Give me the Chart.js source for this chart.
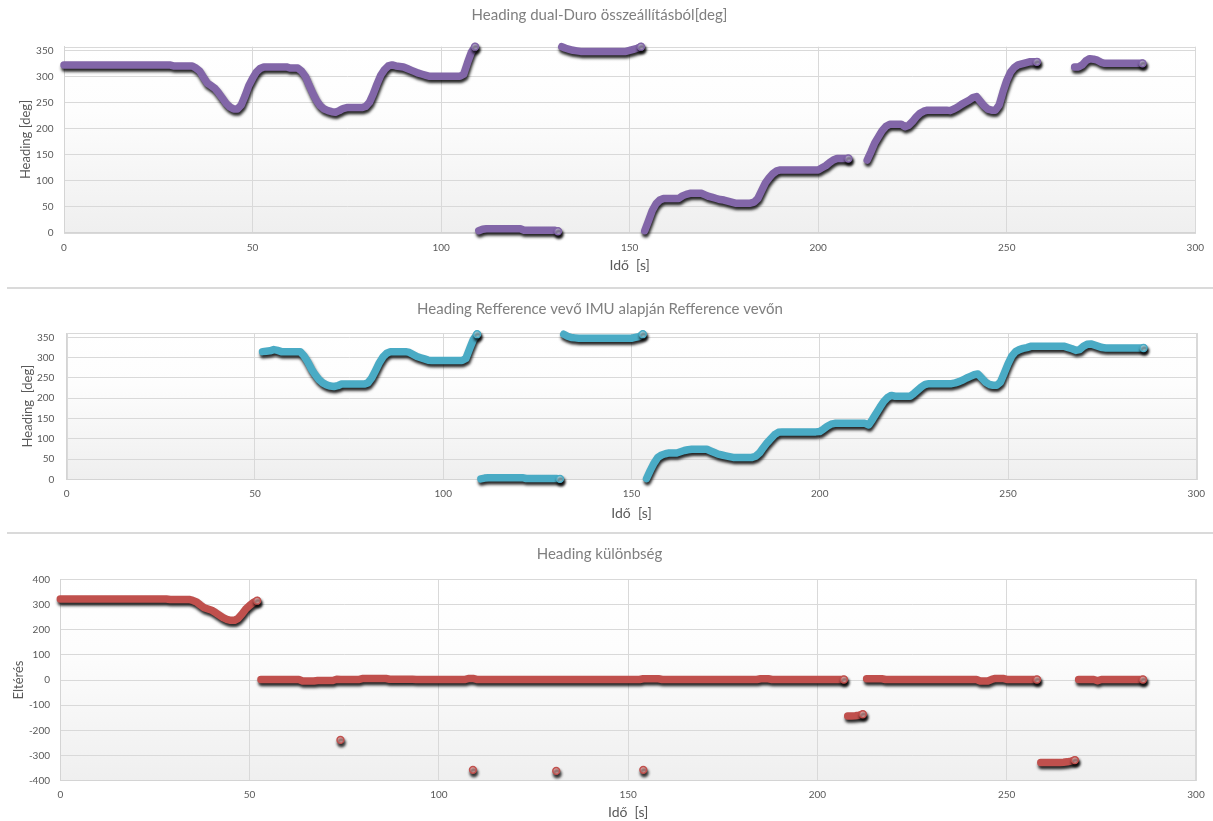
<!DOCTYPE html>
<html lang="hu">
<head>
<meta charset="utf-8">
<title>Heading összehasonlítás</title>
<script src="https://cdn.jsdelivr.net/npm/chart.js@4.4.1/dist/chart.umd.min.js"></script>
<style>
    html, body { margin: 0; padding: 0; background: #fff; }
    body { width: 1213px; height: 821px; position: relative; overflow: hidden; }
    .panel { position: absolute; left: 0; width: 1213px; }
    .panel canvas { display: block; }
    .sep { position: absolute; left: 7px; right: 0; height: 2px; background: #dadada; z-index: 2; }
</style>
</head>
<body>
<div class="panel" style="top:0;height:288px"><canvas id="chartDuro" width="1213" height="288"></canvas></div>
<div class="sep" style="top:287px"></div>
<div class="panel" style="top:288px;height:245px"><canvas id="chartRef" width="1213" height="245"></canvas></div>
<div class="sep" style="top:532px"></div>
<div class="panel" style="top:533px;height:288px"><canvas id="chartDiff" width="1213" height="288"></canvas></div>

<script>
// heading dual-Duro [deg], one value per second, t = 0..286 s (null = no data)
const duroHeading = [
    322,322,322,322,322,322,322,322,322,322,
    322,322,322,322,322,322,322,322,322,322,
    322,322,322,322,322,322,322,322,322,320,
    320,320,320,320,320,316,310,298,287,282,
    277,268,258,248,241,237,237,245,262,282,
    296,308,315,318,318,318,318,318,318,318,
    316,316,316,310,300,283,267,253,243,237,
    234,232,231,234,238,240,240,240,240,240,
    242,250,266,285,302,313,320,322,320,319,
    318,315,312,309,306,304,302,300,300,300,
    300,300,300,300,300,300,304,326,346,357,
    3,6,7,7,7,7,7,7,7,7,
    7,7,4,4,4,4,4,4,4,4,
    4,2,357,354,352,350,349,348,348,348,
    348,348,348,348,348,348,348,348,348,348,
    350,352,354,357,3,22,42,55,62,65,
    65,65,65,65,70,73,75,75,75,75,
    72,69,67,65,63,62,60,58,56,56,
    56,56,56,58,65,80,95,105,113,118,
    120,120,120,120,120,120,120,120,120,120,
    120,124,128,134,139,142,142,142,142,null,
    null,null,null,139,155,172,184,196,204,208,
    208,208,208,203,206,213,222,229,233,235,
    235,235,235,235,235,234,237,241,246,250,
    254,259,261,252,243,237,235,235,245,270,
    292,308,317,322,324,326,328,328,328,null,
    null,null,null,null,null,null,null,null,318,318,
    322,330,334,333,331,327,325,325,325,325,
    325,325,325,325,325,325,325
];

// heading of the reference receiver (IMU) [deg]
const refHeading = [
    null,null,null,null,null,null,null,null,null,null,
    null,null,null,null,null,null,null,null,null,null,
    null,null,null,null,null,null,null,null,null,null,
    null,null,null,null,null,null,null,null,null,null,
    null,null,null,null,null,null,null,null,null,null,
    null,null,315,316,317,320,318,315,315,315,
    315,315,315,305,290,272,258,246,238,233,
    230,229,231,235,235,235,235,235,235,235,
    238,250,268,287,302,311,315,315,315,315,
    315,313,308,303,300,297,294,293,293,293,
    293,293,293,293,293,293,298,322,345,358,
    1,3,4,4,4,4,4,4,4,4,
    4,4,2,2,2,2,2,2,2,2,
    2,1,358,353,350,349,348,348,348,348,
    348,348,348,348,348,348,348,348,348,348,
    348,350,352,358,2,22,40,54,60,63,
    65,65,65,68,71,73,74,74,74,74,
    74,70,66,62,60,58,56,54,54,54,
    54,54,54,57,65,78,90,100,110,116,
    117,117,117,117,117,117,117,117,117,117,
    118,124,131,136,138,138,138,138,138,138,
    138,138,138,134,148,163,178,192,202,207,
    205,205,205,205,205,212,220,228,234,236,
    236,236,236,236,236,236,238,241,245,250,
    254,258,260,250,240,234,232,232,240,262,
    285,304,315,320,323,325,328,328,328,328,
    328,328,328,328,328,328,325,322,318,320,
    328,333,334,331,328,325,324,324,324,324,
    324,324,324,324,324,324,324
];

// difference between the two headings
const headingDiff = [
    322,322,322,322,322,322,322,322,322,322,
    322,322,322,322,322,322,322,322,322,322,
    322,322,322,322,322,322,322,322,322,320,
    320,320,320,320,320,316,310,298,287,282,
    277,268,258,248,241,237,237,245,262,282,
    296,308,315,2,2,2,2,2,2,2,
    2,2,2,2,-4,-4,-4,-4,-2,-2,
    -2,-2,-2,3,2,2,2,2,2,2,
    6,6,6,6,6,6,6,3,3,3,
    3,3,3,3,2,2,2,2,2,2,
    2,2,2,2,2,2,2,2,6,6,
    2,2,2,2,2,2,2,2,2,2,
    2,2,2,2,2,2,2,2,2,2,
    2,2,2,2,2,2,2,2,2,2,
    2,2,2,2,2,2,2,2,2,2,
    2,2,2,2,5,5,5,5,5,2,
    2,2,2,2,2,2,2,2,2,2,
    2,2,2,2,2,2,2,2,2,2,
    2,2,2,2,2,5,5,5,2,2,
    2,2,2,2,2,2,2,2,2,2,
    2,2,2,2,2,2,2,2,-143,-143,
    -142,-140,-136,5,5,5,5,5,2,2,
    2,2,2,2,2,2,2,2,2,2,
    2,2,2,2,2,2,2,2,2,2,
    2,2,2,-4,-4,-4,2,6,6,6,
    2,2,2,2,2,2,2,2,2,-328,
    -328,-328,-328,-328,-328,-327,-325,-322,-318,2,
    2,2,2,2,-3,2,2,2,2,2,
    2,2,2,2,2,2,2
];

// single stray samples of the difference
const diffOutlierTime = [74, 109, 131, 154];
const diffOutlierValue = [-238, -357, -361, -357];

// sampling times [s]
const timeSec = duroHeading.map((_, i) => i);

const chartTitles = [
    'Heading dual-Duro összeállításból[deg]',
    'Heading Refference vevő IMU alapján Refference vevőn',
    'Heading különbség'
];
const yAxisTitles = ['Heading [deg]', 'Heading  [deg]', 'Eltérés'];
const xAxisTitle = 'Idő  [s]';

const fontFamily = 'Lato, "Open Sans", sans-serif';
const JUMP = 60; // larger steps are wrap-arounds, not drawn as a band

// background gradient + plot frame, drawn under the grid
const plotBackground = {
    id: 'plotBackground',
    beforeDraw(chart) {
        const { ctx, chartArea: a } = chart;
        const g = ctx.createLinearGradient(0, a.top, 0, a.bottom);
        g.addColorStop(0, '#ffffff');
        g.addColorStop(0.35, '#fdfdfd');
        g.addColorStop(1, '#efefef');
        ctx.save();
        ctx.fillStyle = g;
        ctx.fillRect(a.left, a.top, a.right - a.left, a.bottom - a.top);
        ctx.strokeStyle = '#d9d9d9';
        ctx.lineWidth = 1;
        ctx.strokeRect(Math.round(a.left) + 0.5, Math.round(a.top) + 0.5,
            Math.round(a.right - a.left), Math.round(a.bottom - a.top));
        ctx.restore();
    }
};

// dark drop shadow under the band
const markerShadow = {
    id: 'markerShadow',
    beforeDatasetsDraw(chart) {
        const c = chart.ctx;
        c.save();
        c.shadowColor = 'rgba(0, 0, 0, 0.85)';
        c.shadowBlur = 3;
        c.shadowOffsetX = 1;
        c.shadowOffsetY = 3;
    },
    afterDatasetsDraw(chart) {
        chart.ctx.restore();
    }
};

// keep nulls so the band breaks where data is missing
function buildPoints(values) {
    return values.map((v, i) => ({ x: timeSec[i], y: v }));
}

// last sample of a run gets the visible marker
function isRunEnd(values, i) {
    const v = values[i];
    if (v === null || v === undefined) return false;
    const next = values[i + 1];
    return next === null || next === undefined || Math.abs(next - v) > JUMP;
}

function renderPanel(canvasId, opts) {
    const ctx = document.getElementById(canvasId).getContext('2d');
    const H = ctx.canvas.height;
    const area = opts.area;
    const titleLh = 15 * 1.2;
    const xTitleLh = 14 * 1.2;
    const yTitleLh = 13 * 1.2;
    const vals = opts.values;

    const datasets = [{
        data: buildPoints(vals),
        showLine: true,
        spanGaps: false,
        borderColor: opts.fill,
        borderWidth: 7.5,
        borderCapStyle: 'round',
        borderJoinStyle: 'round',
        segment: {
            borderColor: s => Math.abs(s.p1.parsed.y - s.p0.parsed.y) > JUMP ? 'rgba(0,0,0,0)' : undefined
        },
        pointRadius: c => isRunEnd(vals, c.dataIndex) ? 3.4 : 0,
        pointHoverRadius: 0,
        pointBackgroundColor: opts.light,
        pointBorderColor: opts.fill,
        pointBorderWidth: 1.5,
        clip: false
    }];

    if (opts.strayT) {
        datasets.push({
            data: opts.strayT.map((t, i) => ({ x: t, y: opts.strayV[i] })),
            pointRadius: 3.4,
            pointHoverRadius: 0,
            pointBackgroundColor: opts.light,
            pointBorderColor: opts.fill,
            pointBorderWidth: 1.5,
            clip: false
        });
    }

    return new Chart(ctx, {
        type: 'scatter',
        data: { datasets: datasets },
        plugins: [plotBackground, markerShadow],
        options: {
            responsive: false,
            animation: false,
            events: [],
            layout: { padding: { left: 0, right: 1213 - area.right, top: 0, bottom: 0 } },
            scales: {
                x: {
                    type: 'linear',
                    min: 0,
                    max: 300,
                    afterFit: s => { s.height = H - area.bottom; },
                    ticks: {
                        stepSize: 50,
                        autoSkip: false,
                        maxRotation: 0,
                        padding: opts.xTickCenter - area.bottom - 6,
                        color: '#595959',
                        font: { family: fontFamily, size: 10, lineHeight: 1.2 }
                    },
                    grid: { color: '#d9d9d9', lineWidth: 1, drawTicks: false },
                    border: { color: '#d4d4d4' },
                    title: {
                        display: true,
                        text: xAxisTitle,
                        color: '#595959',
                        font: { family: fontFamily, size: 14, lineHeight: 1.2 },
                        padding: { top: 0, bottom: (H - opts.xTitleCenter) - xTitleLh / 2 }
                    }
                },
                y: {
                    type: 'linear',
                    min: opts.yMin,
                    max: opts.yMax,
                    afterFit: s => { s.width = area.left; },
                    ticks: {
                        stepSize: opts.yStep,
                        includeBounds: false,
                        autoSkip: false,
                        padding: area.left - opts.yTickRight,
                        color: '#595959',
                        font: { family: fontFamily, size: 10, lineHeight: 1.2 }
                    },
                    grid: { color: '#d9d9d9', lineWidth: 1, drawTicks: false },
                    border: { color: '#d4d4d4' },
                    title: {
                        display: true,
                        text: opts.yTitle,
                        color: '#595959',
                        font: { family: fontFamily, size: 13, lineHeight: 1.2 },
                        padding: { top: opts.yTitleCenter - yTitleLh / 2, bottom: 0 }
                    }
                }
            },
            plugins: {
                legend: { display: false },
                tooltip: { enabled: false },
                title: {
                    display: true,
                    text: opts.title,
                    color: '#7f7f7f',
                    font: { family: fontFamily, size: 15, weight: 'normal', lineHeight: 1.2 },
                    padding: {
                        top: opts.titleCenter - titleLh / 2,
                        bottom: area.top - (opts.titleCenter - titleLh / 2) - titleLh
                    }
                }
            }
        }
    });
}

renderPanel('chartDuro', {
    title: chartTitles[0], yTitle: yAxisTitles[0], values: duroHeading,
    yMin: 0, yMax: 357, yStep: 50,
    fill: '#8266a8', light: '#c4b6de',
    area: { left: 64, right: 1199, top: 46.7, bottom: 232.3 },
    titleCenter: 15, xTickCenter: 247.3, xTitleCenter: 265, yTitleCenter: 26, yTickRight: 53.5
});

renderPanel('chartRef', {
    title: chartTitles[1], yTitle: yAxisTitles[1], values: refHeading,
    yMin: 0, yMax: 361, yStep: 50,
    fill: '#4aabc5', light: '#a9e0ee',
    area: { left: 66.7, right: 1200, top: 45, bottom: 191.3 },
    titleCenter: 21.3, xTickCenter: 205.3, xTitleCenter: 225.3, yTitleCenter: 28.3, yTickRight: 54.3
});

renderPanel('chartDiff', {
    title: chartTitles[2], yTitle: yAxisTitles[2], values: headingDiff,
    strayT: diffOutlierTime, strayV: diffOutlierValue,
    yMin: -400, yMax: 400, yStep: 100,
    fill: '#c0504d', light: '#f0b0ae',
    area: { left: 60.3, right: 1199, top: 46.3, bottom: 247.7 },
    titleCenter: 21, xTickCenter: 262, xTitleCenter: 279, yTitleCenter: 19, yTickRight: 50
});
</script>
</body>
</html>
